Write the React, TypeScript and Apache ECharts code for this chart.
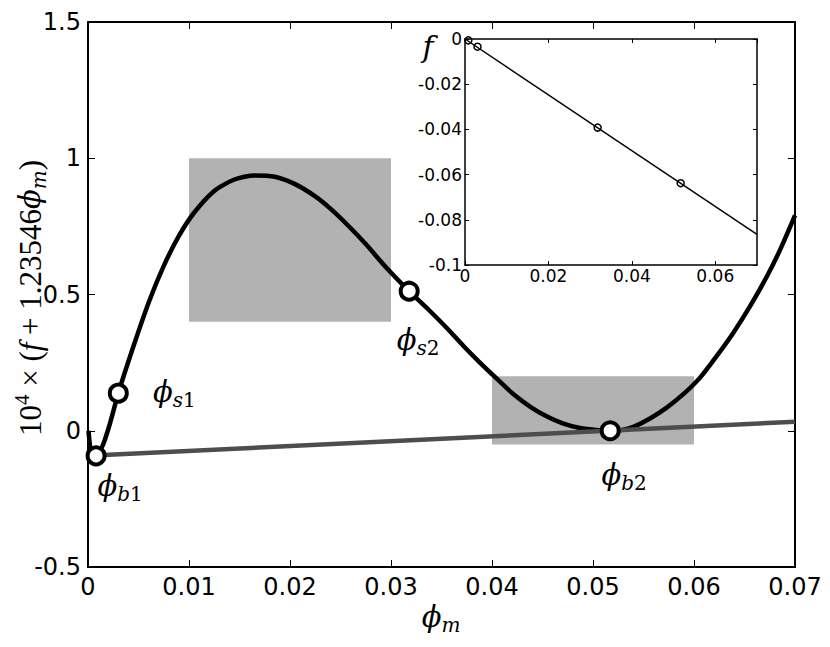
import React, { useEffect, useRef } from "react";
import * as echarts from "echarts";

// main curve: 10^4 x (f + 1.23546 phi_m)
const curvePhi = [0.00005, 0.0002, 0.0004, 0.0008, 0.0015, 0.0022, 0.003, 0.0045, 0.006, 0.0075, 0.009, 0.0105, 0.0125, 0.0145, 0.0165, 0.0185, 0.0205, 0.0225, 0.024, 0.0257, 0.0275, 0.0295, 0.0318, 0.0337, 0.0355, 0.0372, 0.0388, 0.0405, 0.0421, 0.0438, 0.0454, 0.047, 0.0487, 0.0505, 0.0517, 0.053, 0.054, 0.0556, 0.0573, 0.059, 0.0606, 0.0622, 0.0639, 0.0656, 0.0672, 0.0686, 0.07];
const curveVal = [0.0, -0.055, -0.082, -0.092, -0.05, 0.03, 0.138, 0.31, 0.47, 0.605, 0.715, 0.8, 0.88, 0.922, 0.937, 0.932, 0.905, 0.86, 0.815, 0.755, 0.685, 0.6, 0.512, 0.445, 0.378, 0.31, 0.25, 0.19, 0.135, 0.088, 0.053, 0.027, 0.01, 0.002, 0.0, 0.004, 0.014, 0.044, 0.085, 0.136, 0.195, 0.272, 0.36, 0.46, 0.565, 0.67, 0.79];

// common tangent line
const tangentPhi = [0, 0.07];
const tangentVal = [-0.092, 0.033];

// marked points
const pointPhi = [0.0008, 0.003, 0.0318, 0.0517];
const pointVal = [-0.092, 0.138, 0.512, 0.0];
const pointSubLetter = ["b", "s", "s", "b"];
const pointSubIndex = ["1", "1", "2", "2"];

// shaded boxes [x0, x1, y0, y1]
const boxX0 = [0.01, 0.04];
const boxX1 = [0.03, 0.06];
const boxY0 = [0.4, -0.05];
const boxY1 = [1.0, 0.2];

// inset: f vs phi_m
const insetPhi = [0, 0.07];
const insetF = [0, -0.0865];
const insetPointF = [-0.0006, -0.0034, -0.0392, -0.0638];

// axes
const mainXMin = 0, mainXMax = 0.07, mainXStep = 0.01;
const mainYMin = -0.5, mainYMax = 1.5, mainYStep = 0.5;
const insetXMin = 0, insetXMax = 0.07, insetXStep = 0.02;
const insetYMin = -0.1, insetYMax = 0, insetYStep = 0.02;

const labelOffsets = [
  [24, 30],
  [56, -1],
  [9, 49],
  [14, 44],
];

const fmt = (v: number) => String(+v.toFixed(3));

const mathRich = {
  phi: { fontFamily: "DejaVu Serif", fontStyle: "italic", fontSize: 29, color: "#000", lineHeight: 36, verticalAlign: "middle" },
  sub: { fontFamily: "DejaVu Serif", fontStyle: "italic", fontSize: 20, color: "#000", lineHeight: 16, verticalAlign: "bottom" },
  subr: { fontFamily: "DejaVu Serif", fontSize: 20, color: "#000", lineHeight: 16, verticalAlign: "bottom" },
  r: { fontFamily: "Liberation Serif", fontSize: 31, color: "#000", lineHeight: 38 },
  i: { fontFamily: "Liberation Serif", fontStyle: "italic", fontSize: 31, color: "#000", lineHeight: 38 },
  fi: { fontFamily: "DejaVu Serif", fontStyle: "italic", fontSize: 30, color: "#000", lineHeight: 38 },
  sup: { fontFamily: "Liberation Serif", fontSize: 21, color: "#000", lineHeight: 16, verticalAlign: "top" },
};

export default function App() {
  const ref = useRef<HTMLDivElement>(null);
  useEffect(() => {
    const chart = echarts.init(ref.current!, undefined, { renderer: "svg" });
    const axisLine = { show: true, onZero: false, lineStyle: { color: "#000", width: 2 } };
    const insetLine = { show: true, onZero: false, lineStyle: { color: "#000", width: 1.5 } };
    const tick = { inside: true, length: 7, lineStyle: { color: "#000", width: 1 } };
    const insetTick = { inside: true, length: 4, lineStyle: { color: "#000", width: 1 } };
    const tickLabel = { fontFamily: "DejaVu Sans", fontSize: 24, color: "#000" };
    const insetLabel = { fontFamily: "DejaVu Sans", fontSize: 17, color: "#000" };
    const option: any = {
      animation: false,
      backgroundColor: "#fff",
      grid: [
        { left: 88, right: 35, top: 22, bottom: 80 },
        { left: 465, top: 39, width: 292, height: 226, show: true, backgroundColor: "#fff", borderWidth: 0, z: 5 },
      ],
      xAxis: [
        {
          type: "value", gridIndex: 0, min: mainXMin, max: mainXMax, interval: mainXStep,
          axisLine, splitLine: { show: false }, axisTick: tick,
          axisLabel: { ...tickLabel, margin: 8, formatter: fmt },
        },
        {
          type: "value", gridIndex: 0, position: "top", min: mainXMin, max: mainXMax, interval: mainXStep,
          axisLine, splitLine: { show: false }, axisTick: tick, axisLabel: { show: false },
        },
        {
          type: "value", gridIndex: 1, min: insetXMin, max: insetXMax, interval: insetXStep, z: 6,
          axisLine: insetLine, splitLine: { show: false }, axisTick: insetTick,
          axisLabel: { ...insetLabel, margin: 2, showMaxLabel: false, formatter: fmt },
        },
        {
          type: "value", gridIndex: 1, position: "top", min: insetXMin, max: insetXMax, interval: insetXStep, z: 6,
          axisLine: insetLine, splitLine: { show: false }, axisTick: insetTick, axisLabel: { show: false },
        },
      ],
      yAxis: [
        {
          type: "value", gridIndex: 0, min: mainYMin, max: mainYMax, interval: mainYStep,
          axisLine, splitLine: { show: false }, axisTick: tick,
          axisLabel: { ...tickLabel, margin: 7, formatter: fmt },
        },
        {
          type: "value", gridIndex: 0, position: "right", min: mainYMin, max: mainYMax, interval: mainYStep,
          axisLine, splitLine: { show: false }, axisTick: tick, axisLabel: { show: false },
        },
        {
          type: "value", gridIndex: 1, min: insetYMin, max: insetYMax, interval: insetYStep, z: 6,
          axisLine: insetLine, splitLine: { show: false }, axisTick: insetTick,
          axisLabel: { ...insetLabel, margin: 3, formatter: fmt },
        },
        {
          type: "value", gridIndex: 1, position: "right", min: insetYMin, max: insetYMax, interval: insetYStep, z: 6,
          axisLine: insetLine, splitLine: { show: false }, axisTick: insetTick, axisLabel: { show: false },
        },
      ],
      series: [
        {
          type: "custom", xAxisIndex: 0, yAxisIndex: 0, z: 1, silent: true,
          data: boxX0.map((x0, i) => [x0, boxX1[i], boxY0[i], boxY1[i]]),
          renderItem: (_p: any, api: any) => {
            const a = api.coord([api.value(0), api.value(3)]);
            const b = api.coord([api.value(1), api.value(2)]);
            return { type: "rect", shape: { x: a[0], y: a[1], width: b[0] - a[0], height: b[1] - a[1] }, style: { fill: "#b2b2b2" } };
          },
        },
        {
          type: "line", xAxisIndex: 0, yAxisIndex: 0, z: 3, symbol: "none", smooth: 0.25,
          data: curvePhi.map((x, i) => [x, curveVal[i]]),
          lineStyle: { color: "#000", width: 4.5 },
        },
        {
          type: "line", xAxisIndex: 0, yAxisIndex: 0, z: 4, symbol: "none",
          data: tangentPhi.map((x, i) => [x, tangentVal[i]]),
          lineStyle: { color: "#4d4d4d", width: 4.5 },
        },
        {
          type: "scatter", xAxisIndex: 0, yAxisIndex: 0, z: 5, symbol: "circle", symbolSize: 17,
          itemStyle: { color: "#fff", borderColor: "#000", borderWidth: 4, opacity: 1 },
          data: pointPhi.map((x, i) => ({
            value: [x, pointVal[i]],
            label: {
              show: true, position: "inside", offset: labelOffsets[i],
              formatter: "{phi|ϕ}{sub|" + pointSubLetter[i] + "}{subr|" + pointSubIndex[i] + "}",
              rich: mathRich,
            },
          })),
        },
        {
          type: "line", xAxisIndex: 2, yAxisIndex: 2, z: 7, symbol: "none",
          data: insetPhi.map((x, i) => [x, insetF[i]]),
          lineStyle: { color: "#000", width: 1.5 },
        },
        {
          type: "scatter", xAxisIndex: 2, yAxisIndex: 2, z: 8, symbol: "circle", symbolSize: 7,
          itemStyle: { color: "rgba(0,0,0,0)", borderColor: "#000", borderWidth: 1.5, opacity: 1 },
          data: pointPhi.map((x, i) => [x, insetPointF[i]]),
        },
      ],
      graphic: [
        {
          type: "text", x: 441, y: 617, z: 10,
          style: { text: "{phi|ϕ}{sub|m}", rich: mathRich, align: "center", verticalAlign: "middle" },
        },
        {
          type: "text", x: 30, y: 298, rotation: Math.PI / 2, z: 10,
          style: {
            text: "{r|10}{sup|4}{r| × (}{i|f}{r| + 1.23546}{phi|ϕ}{sub|m}{r|)}",
            rich: mathRich, align: "center", verticalAlign: "middle",
          },
        },
        {
          type: "text", x: 428, y: 46, z: 10,
          style: { text: "{fi|f}", rich: mathRich, align: "center", verticalAlign: "middle" },
        },
      ],
    };
    chart.setOption(option);
    return () => chart.dispose();
  }, []);
  return <div ref={ref} style={{ width: 830, height: 647, position: "absolute", left: 0, top: 0 }} />;
}
